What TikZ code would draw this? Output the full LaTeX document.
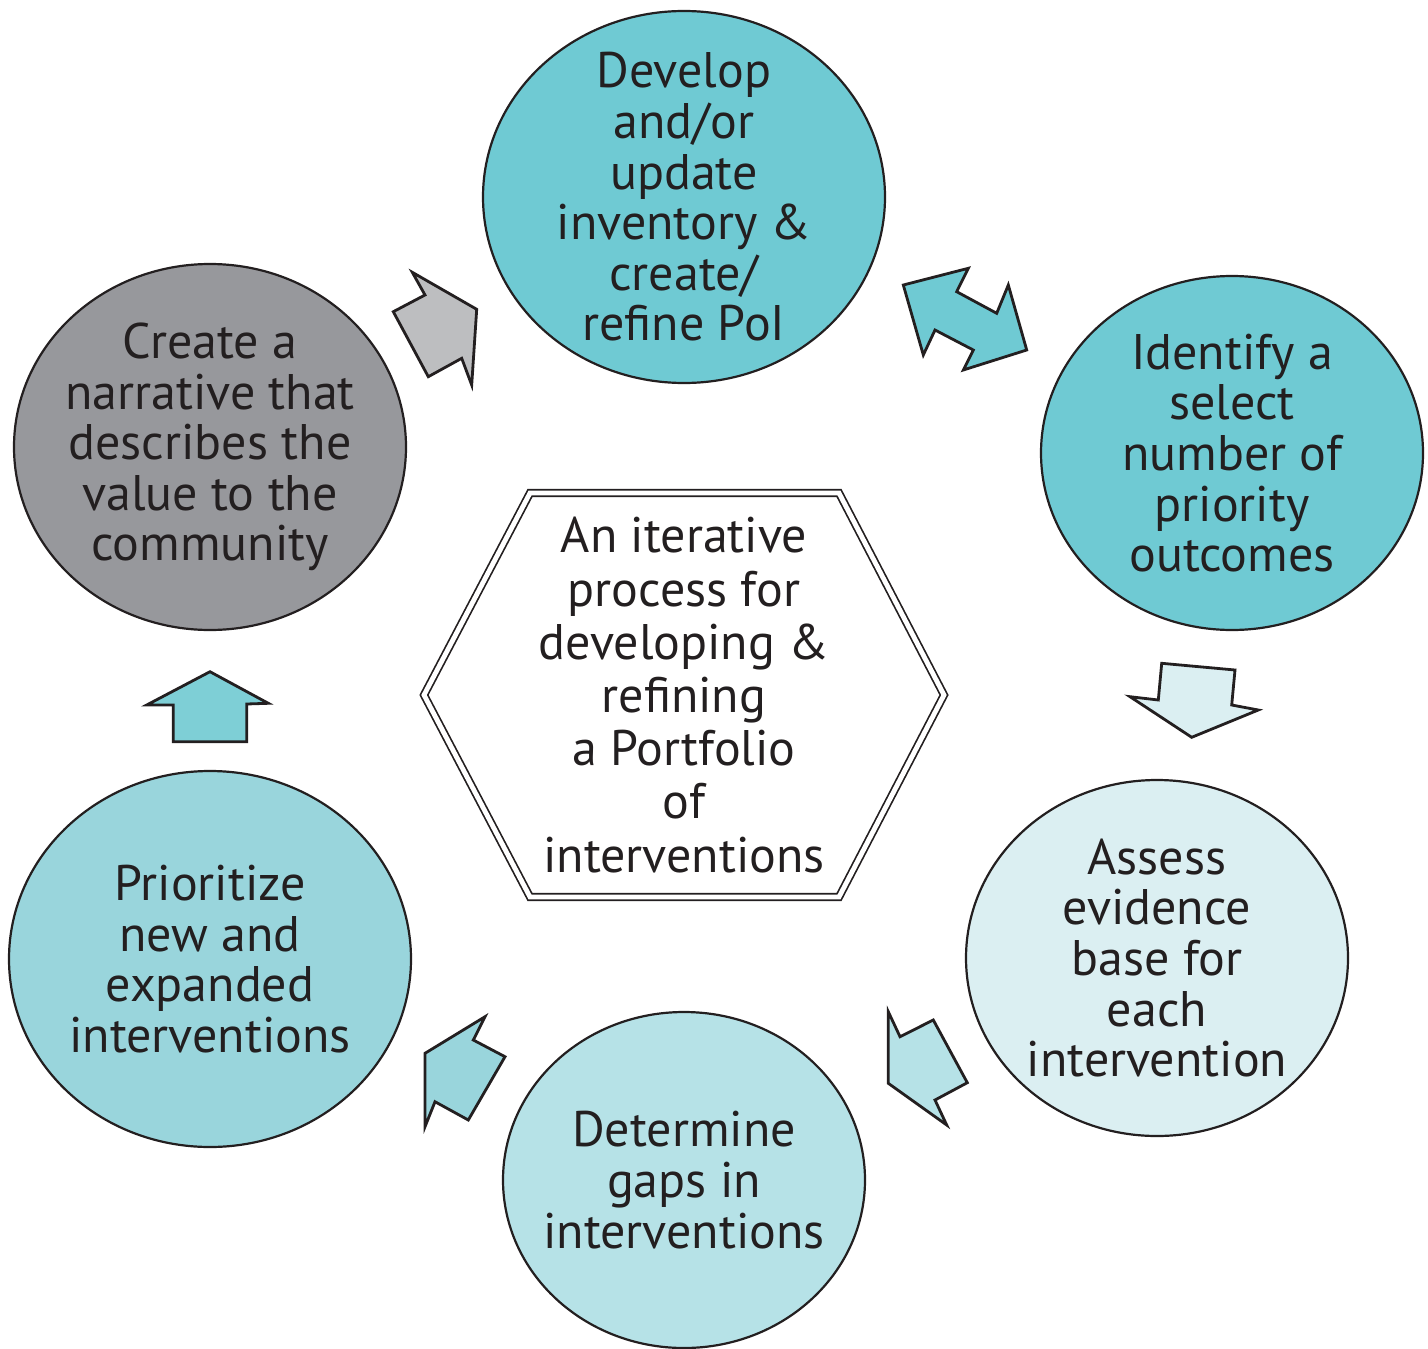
\documentclass[tikz,border=0pt]{standalone}
\usepackage{fontspec}
\setmainfont{PT Sans}
\usetikzlibrary{shapes.geometric}
\definecolor{tealA}{HTML}{6FCAD3}
\definecolor{paleA}{HTML}{DBEFF2}
\definecolor{lightA}{HTML}{B6E2E7}
\definecolor{midA}{HTML}{99D5DC}
\definecolor{greyA}{HTML}{97989C}
\definecolor{greyB}{HTML}{BDBEC0}
\definecolor{upA}{HTML}{7ECFD6}
\definecolor{txt}{HTML}{231F20}
\begin{document}
\begin{tikzpicture}[x=0.5pt,y=-0.5pt,
  bub/.style={ellipse, draw=txt, line width=1.1pt, inner sep=0pt},
  lbl/.style={align=center, inner sep=0pt, text=txt, font=\fontsize{25}{25.3}\selectfont},
  hexlbl/.style={align=center, inner sep=0pt, text=txt, font=\fontsize{25}{26.6}\selectfont},
  barrow/.style={draw=txt, line width=1.4pt, line join=miter}]
\useasboundingbox (0,0) rectangle (1428,1348);
% bubbles
\node[bub, fill=tealA, minimum width=201pt, minimum height=186pt] (dev) at (684,197) {};
\node[bub, fill=tealA, minimum width=191pt, minimum height=177pt] (idf) at (1232,453) {};
\node[bub, fill=paleA, minimum width=191pt, minimum height=178pt] (ass) at (1157,958) {};
\node[bub, fill=lightA, minimum width=181pt, minimum height=168pt] (det) at (684,1180) {};
\node[bub, fill=midA, minimum width=201pt, minimum height=188pt] (pri) at (210,959) {};
\node[bub, fill=greyA, minimum width=196pt, minimum height=183pt] (nar) at (210,447) {};
% labels
\node[lbl] at (dev) {Develop\\and/or\\update\\inventory \&\\create/\\refine PoI};
\node[lbl] at (idf) {Identify a\\select\\number of\\priority\\outcomes};
\node[lbl] at (ass) {Assess\\evidence\\base for\\each\\intervention};
\node[lbl] at (det) {Determine\\gaps in\\interventions};
\node[lbl] at (pri) {Prioritize\\new and\\expanded\\interventions};
\node[lbl] at (nar) {Create a\\narrative that\\describes the\\value to the\\community};
% central hexagon
\coordinate (hc) at (684,695);
\draw[draw=txt, line width=0.85pt, double=white, double distance=2.4pt, line join=miter]
  (424,695) -- (530,493) -- (839,493) -- (944,695) -- (839,897) -- (530,897) -- cycle;
\node[hexlbl] (hub) at (hc) {An iterative\\process for\\developing \&\\refining\\a Portfolio\\of\\interventions};
% block arrows
\draw[barrow, fill=greyB] (412.3,272.3) -- (425,295) -- (393.3,311.7) -- (428.3,376.7) -- (461.7,358.3) -- (471.7,385) -- (476.7,309.3) -- cycle;
\draw[barrow, fill=tealA] (903.3,285) -- (968.3,268.3) -- (956.7,291.7) -- (996.7,313.3) -- (1008.3,285) -- (1026.7,350) -- (963.3,370) -- (973.3,350) -- (935,330) -- (923.3,355) -- cycle;
\draw[barrow, fill=paleA] (1161.7,663.3) -- (1235,670) -- (1231.7,705) -- (1258.3,710) -- (1191.7,737.3) -- (1130,696.7) -- (1158.3,700) -- cycle;
\draw[barrow, fill=lightA] (888.3,1011.7) -- (900,1036.7) -- (933.3,1020) -- (967.3,1082.7) -- (935,1100) -- (946.7,1125) -- (888.3,1083.3) -- cycle;
\draw[barrow, fill=midA] (485,1016.7) -- (473.3,1040) -- (505,1056.7) -- (468.3,1120) -- (435,1101.7) -- (425,1126.7) -- (425,1053.3) -- cycle;
\draw[barrow, fill=upA] (210,671.7) -- (268.3,703.3) -- (246.7,704) -- (246.7,741.7) -- (173.3,741.7) -- (173.3,705) -- (146.7,705) -- cycle;
\end{tikzpicture}
\end{document}
